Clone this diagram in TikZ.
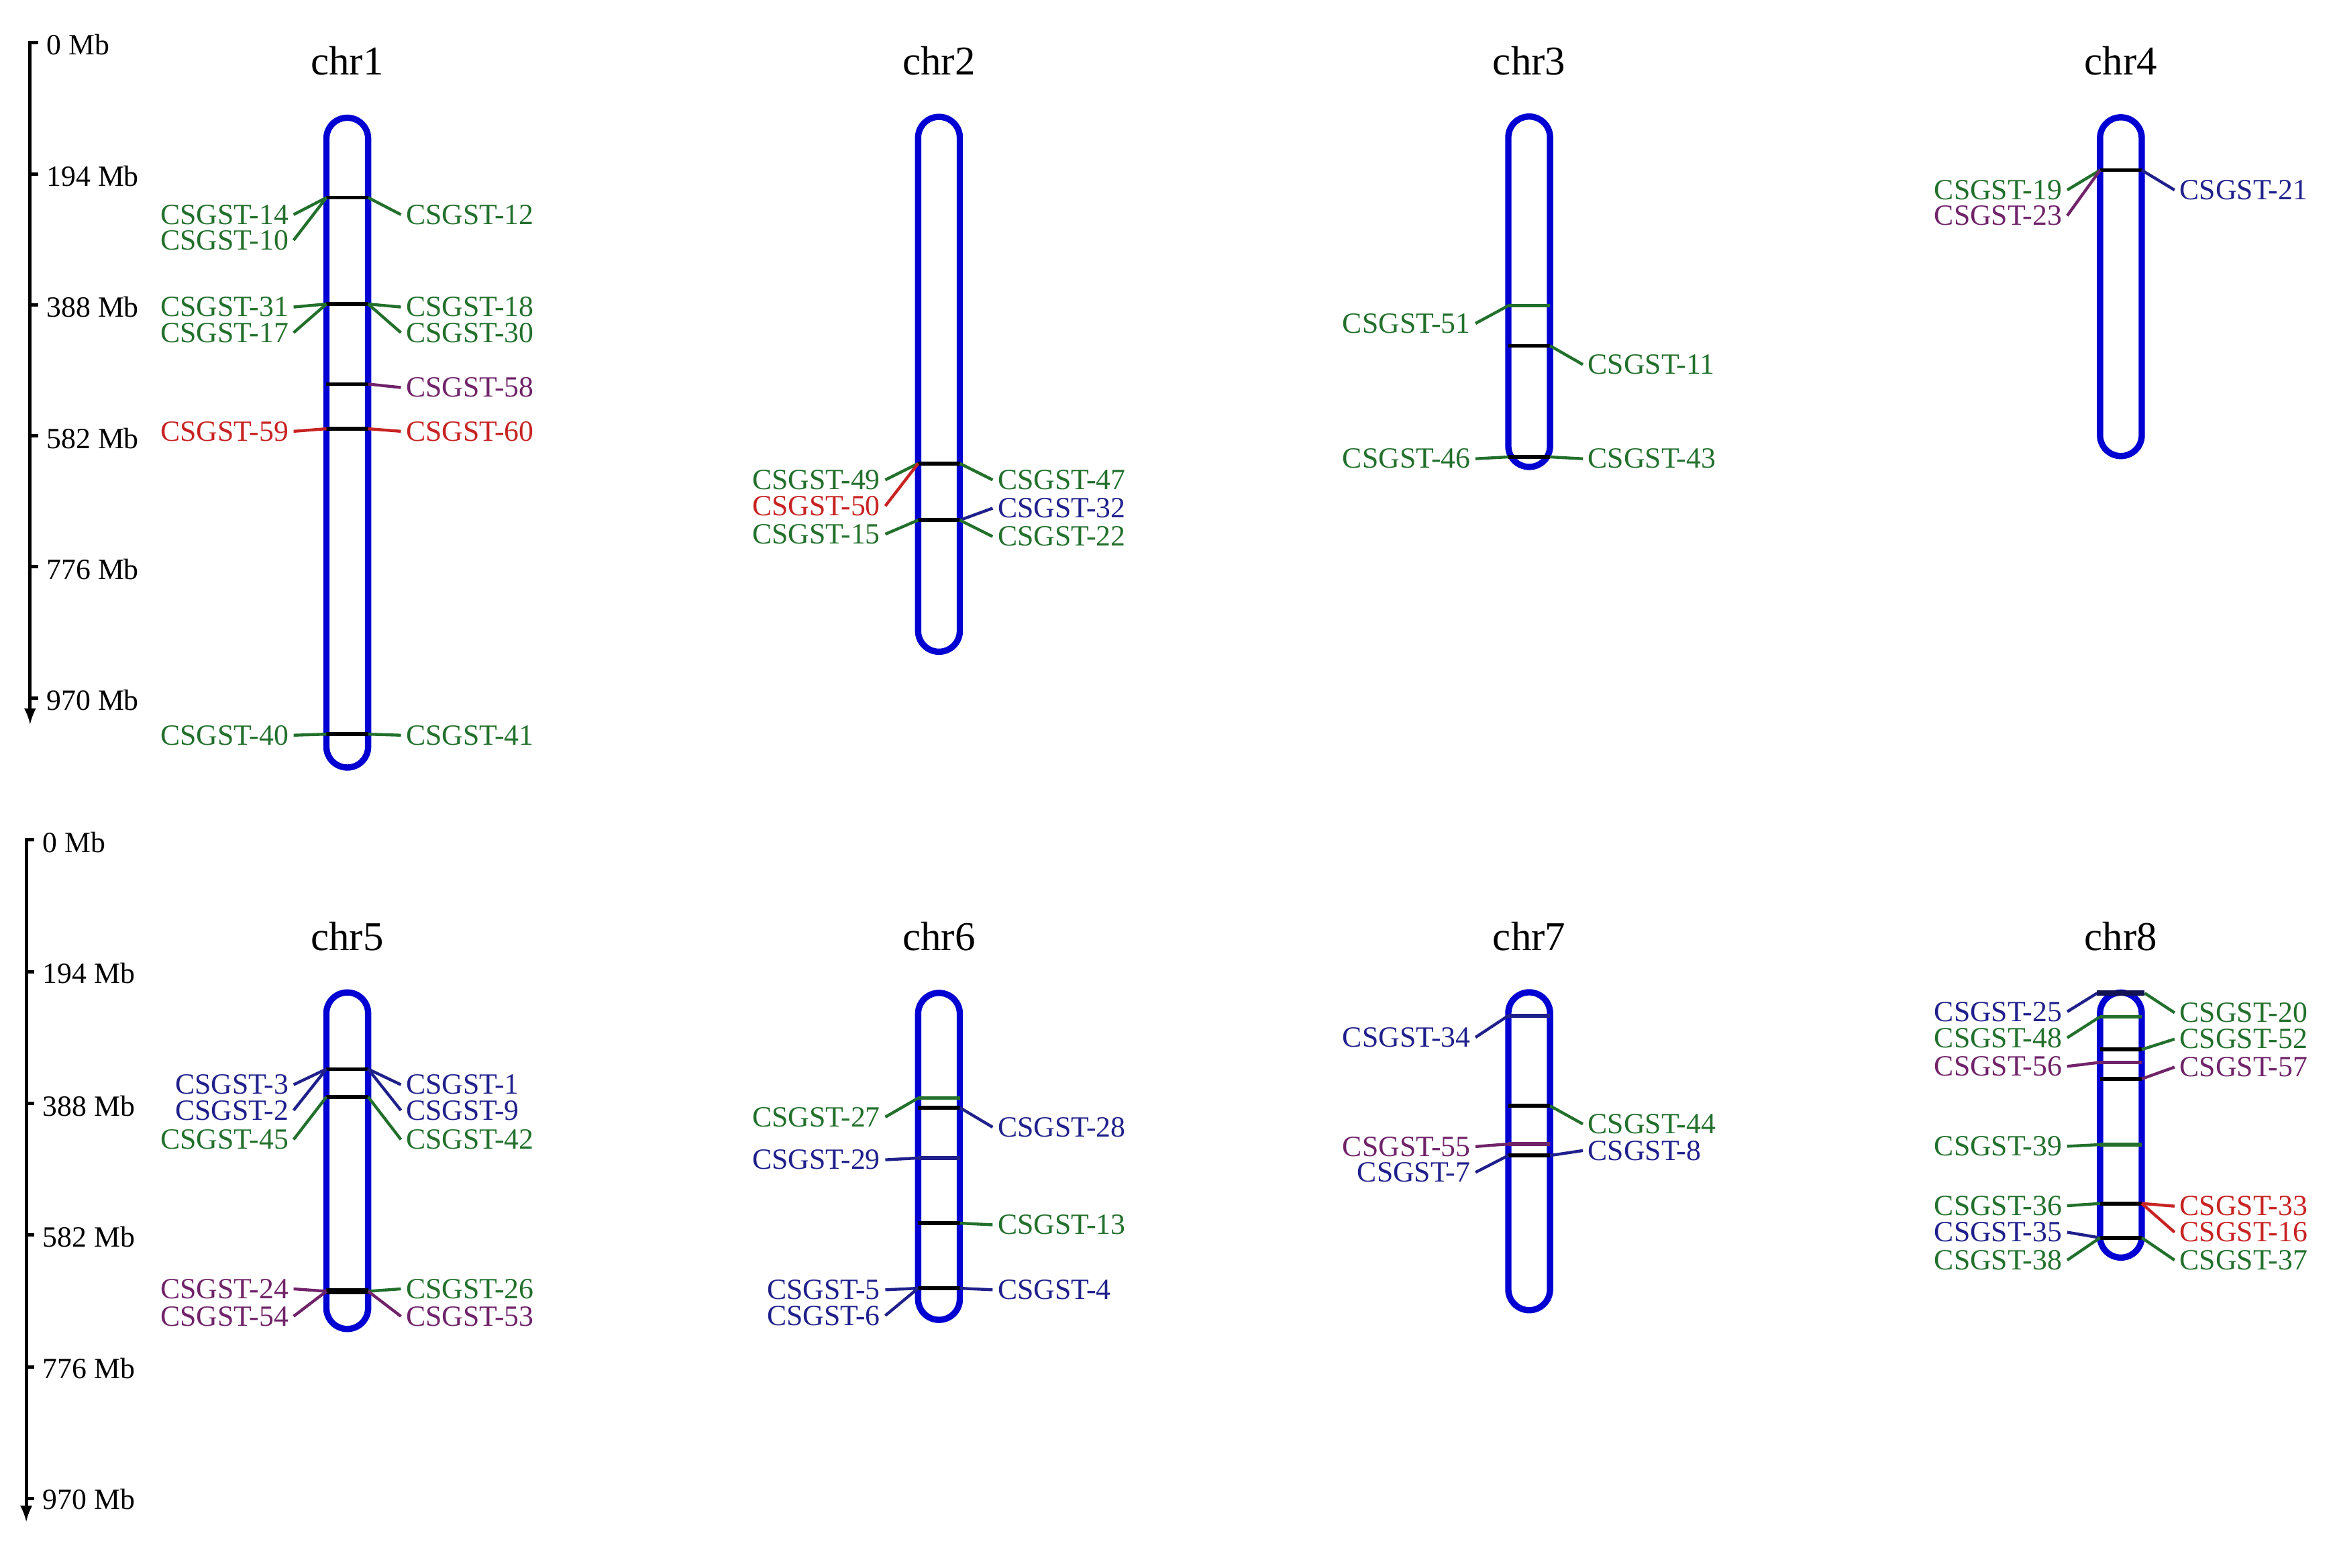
\documentclass[tikz,border=0pt]{standalone}
\usepackage{fontspec}
\setmainfont{Liberation Serif}

\definecolor{chromblue}{RGB}{0,0,210}
\definecolor{gsgreen}{RGB}{34,112,44}
\definecolor{gsblue}{RGB}{32,32,140}
\definecolor{gspurple}{RGB}{112,35,105}
\definecolor{gsred}{RGB}{200,35,35}

\tikzset{
  chrom/.style={draw=chromblue,line width=3pt,rounded corners=0.35cm},
  band/.style={line width=1.8pt},
  lnk/.style={line width=1.4pt},
  axis/.style={line width=1.6pt},
  gl/.style={anchor=east,inner xsep=0.08cm,inner ysep=0pt,font=\fontsize{14}{16}\selectfont},
  gr/.style={anchor=west,inner xsep=0.08cm,inner ysep=0pt,font=\fontsize{14}{16}\selectfont},
  axl/.style={anchor=west,inner sep=0pt,font=\fontsize{14}{16}\selectfont},
  ttl/.style={inner sep=0pt,font=\fontsize{19.5}{22}\selectfont}
}

\begin{document}
\begin{tikzpicture}[x=0.025cm,y=-0.025cm,>=latex]
\useasboundingbox (0,0) rectangle (1568,1052);

% scale bars
\draw[axis,->] (25.5,28.8) -- (20.2,28.8) -- (20.2,486);
\draw[axis] (20.2,116.7) -- (25.5,116.7);
\draw[axis] (20.2,204.6) -- (25.5,204.6);
\draw[axis] (20.2,292.5) -- (25.5,292.5);
\draw[axis] (20.2,380.4) -- (25.5,380.4);
\draw[axis] (20.2,468.3) -- (25.5,468.3);
\node[axl] (ua0) at (31,30) {0 Mb};
\node[axl] (ua1) at (31,118) {194 Mb};
\node[axl] (ua2) at (31,206) {388 Mb};
\node[axl] (ua3) at (31,294) {582 Mb};
\node[axl] (ua4) at (31,382) {776 Mb};
\node[axl] (ua5) at (31,470) {970 Mb};

\draw[axis,->] (23,563.5) -- (17.6,563.5) -- (17.6,1021);
\draw[axis] (17.6,651.9) -- (23,651.9);
\draw[axis] (17.6,740.3) -- (23,740.3);
\draw[axis] (17.6,828.7) -- (23,828.7);
\draw[axis] (17.6,917.1) -- (23,917.1);
\draw[axis] (17.6,1005.5) -- (23,1005.5);
\node[axl] (la0) at (28.4,565) {0 Mb};
\node[axl] (la1) at (28.4,653) {194 Mb};
\node[axl] (la2) at (28.4,742) {388 Mb};
\node[axl] (la3) at (28.4,830) {582 Mb};
\node[axl] (la4) at (28.4,918) {776 Mb};
\node[axl] (la5) at (28.4,1006) {970 Mb};

% chromosomes
\node[ttl] (chr1) at (233,41) {chr1};
\node[ttl] (chr2) at (630,41) {chr2};
\node[ttl] (chr3) at (1026,41) {chr3};
\node[ttl] (chr4) at (1423,41) {chr4};
\node[ttl] (chr5) at (233,628.5) {chr5};
\node[ttl] (chr6) at (630,628.5) {chr6};
\node[ttl] (chr7) at (1026,628.5) {chr7};
\node[ttl] (chr8) at (1423,628.5) {chr8};

\draw[chrom] (219,79) rectangle (247,515);
\draw[chrom] (616,78.4) rectangle (644,437.3);
\draw[chrom] (1012,78.2) rectangle (1040,313.3);
\draw[chrom] (1409,78.7) rectangle (1437,306);
\draw[chrom] (219,665.9) rectangle (247,891.7);
\draw[chrom] (616,666.2) rectangle (644,885.6);
\draw[chrom] (1012,665.8) rectangle (1040,879.1);
\draw[chrom] (1409,666) rectangle (1437,843.8);

% chr1
\draw[band] (219,132.6) coordinate (c1aL) -- (247,132.6) coordinate (c1aR);
\draw[band] (219,204) coordinate (c1bL) -- (247,204) coordinate (c1bR);
\draw[band] (219,257.7) coordinate (c1cL) -- (247,257.7) coordinate (c1cR);
\draw[band] (219,287.7) coordinate (c1dL) -- (247,287.7) coordinate (c1dR);
\draw[band] (219,492.6) coordinate (c1eL) -- (247,492.6) coordinate (c1eR);
\node[gl,text=gsgreen] (g14) at (197,144) {CSGST-14};
\node[gl,text=gsgreen] (g10) at (197,161.2) {CSGST-10};
\node[gr,text=gsgreen] (g12) at (269,144) {CSGST-12};
\node[gl,text=gsgreen] (g31) at (197,206) {CSGST-31};
\node[gl,text=gsgreen] (g17) at (197,223.2) {CSGST-17};
\node[gr,text=gsgreen] (g18) at (269,206) {CSGST-18};
\node[gr,text=gsgreen] (g30) at (269,223.2) {CSGST-30};
\node[gr,text=gspurple] (g58) at (269,260) {CSGST-58};
\node[gl,text=gsred] (g59) at (197,289.4) {CSGST-59};
\node[gr,text=gsred] (g60) at (269,289.4) {CSGST-60};
\node[gl,text=gsgreen] (g40) at (197,493.3) {CSGST-40};
\node[gr,text=gsgreen] (g41) at (269,493.3) {CSGST-41};
\draw[lnk,gsgreen] (c1aL) -- (g14.east);
\draw[lnk,gsgreen] (c1aL) -- (g10.east);
\draw[lnk,gsgreen] (c1aR) -- (g12.west);
\draw[lnk,gsgreen] (c1bL) -- (g31.east);
\draw[lnk,gsgreen] (c1bL) -- (g17.east);
\draw[lnk,gsgreen] (c1bR) -- (g18.west);
\draw[lnk,gsgreen] (c1bR) -- (g30.west);
\draw[lnk,gspurple] (c1cR) -- (g58.west);
\draw[lnk,gsred] (c1dL) -- (g59.east);
\draw[lnk,gsred] (c1dR) -- (g60.west);
\draw[lnk,gsgreen] (c1eL) -- (g40.east);
\draw[lnk,gsgreen] (c1eR) -- (g41.west);

% chr2
\draw[band] (616,311) coordinate (c2aL) -- (644,311) coordinate (c2aR);
\draw[band] (616,349) coordinate (c2bL) -- (644,349) coordinate (c2bR);
\node[gl,text=gsgreen] (g49) at (594,322) {CSGST-49};
\node[gl,text=gsred] (g50) at (594,339.5) {CSGST-50};
\node[gl,text=gsgreen] (g15) at (594,358.4) {CSGST-15};
\node[gr,text=gsgreen] (g47) at (666,322) {CSGST-47};
\node[gr,text=gsblue] (g32) at (666,341) {CSGST-32};
\node[gr,text=gsgreen] (g22) at (666,360) {CSGST-22};
\draw[lnk,gsgreen] (c2aL) -- (g49.east);
\draw[lnk,gsred] (c2aL) -- (g50.east);
\draw[lnk,gsgreen] (c2bL) -- (g15.east);
\draw[lnk,gsgreen] (c2aR) -- (g47.west);
\draw[lnk,gsblue] (c2bR) -- (g32.west);
\draw[lnk,gsgreen] (c2bR) -- (g22.west);

% chr3
\draw[band,gsgreen] (1012,205.1) coordinate (c3aL) -- (1040,205.1) coordinate (c3aR);
\draw[band] (1012,232) coordinate (c3bL) -- (1040,232) coordinate (c3bR);
\draw[band] (1012,306.6) coordinate (c3cL) -- (1040,306.6) coordinate (c3cR);
\node[gl,text=gsgreen] (g51) at (990,217) {CSGST-51};
\node[gr,text=gsgreen] (g11) at (1062,244.6) {CSGST-11};
\node[gl,text=gsgreen] (g46) at (990,307.8) {CSGST-46};
\node[gr,text=gsgreen] (g43) at (1062,307.8) {CSGST-43};
\draw[lnk,gsgreen] (c3aL) -- (g51.east);
\draw[lnk,gsgreen] (c3bR) -- (g11.west);
\draw[lnk,gsgreen] (c3cL) -- (g46.east);
\draw[lnk,gsgreen] (c3cR) -- (g43.west);

% chr4
\draw[band] (1409,114.2) coordinate (c4aL) -- (1437,114.2) coordinate (c4aR);
\node[gl,text=gsgreen] (g19) at (1387,127.5) {CSGST-19};
\node[gl,text=gspurple] (g23) at (1387,144.7) {CSGST-23};
\node[gr,text=gsblue] (g21) at (1459,127.5) {CSGST-21};
\draw[lnk,gsgreen] (c4aL) -- (g19.east);
\draw[lnk,gspurple] (c4aL) -- (g23.east);
\draw[lnk,gsblue] (c4aR) -- (g21.west);

% chr5
\draw[band] (219,717.3) coordinate (c5aL) -- (247,717.3) coordinate (c5aR);
\draw[band] (219,736) coordinate (c5bL) -- (247,736) coordinate (c5bR);
\draw[band,line width=3pt] (219,866.4) coordinate (c5cL) -- (247,866.4) coordinate (c5cR);
\node[gl,text=gsblue] (g3) at (197,727.8) {CSGST-3};
\node[gl,text=gsblue] (g2) at (197,745) {CSGST-2};
\node[gl,text=gsgreen] (g45) at (197,764.6) {CSGST-45};
\node[gr,text=gsblue] (g1) at (269,727.8) {CSGST-1};
\node[gr,text=gsblue] (g9) at (269,745) {CSGST-9};
\node[gr,text=gsgreen] (g42) at (269,764.6) {CSGST-42};
\node[gl,text=gspurple] (g24) at (197,864.8) {CSGST-24};
\node[gl,text=gspurple] (g54) at (197,883.2) {CSGST-54};
\node[gr,text=gsgreen] (g26) at (269,864.8) {CSGST-26};
\node[gr,text=gspurple] (g53) at (269,883.2) {CSGST-53};
\draw[lnk,gsblue] (c5aL) -- (g3.east);
\draw[lnk,gsblue] (c5aL) -- (g2.east);
\draw[lnk,gsgreen] (c5bL) -- (g45.east);
\draw[lnk,gsblue] (c5aR) -- (g1.west);
\draw[lnk,gsblue] (c5aR) -- (g9.west);
\draw[lnk,gsgreen] (c5bR) -- (g42.west);
\draw[lnk,gspurple] (c5cL) -- (g24.east);
\draw[lnk,gspurple] (c5cL) -- (g54.east);
\draw[lnk,gsgreen] (c5cR) -- (g26.west);
\draw[lnk,gspurple] (c5cR) -- (g53.west);

% chr6
\draw[band,gsgreen] (616,736.8) coordinate (c6aL) -- (644,736.8) coordinate (c6aR);
\draw[band] (616,743.2) coordinate (c6bL) -- (644,743.2) coordinate (c6bR);
\draw[band,gsblue] (616,777) coordinate (c6cL) -- (644,777) coordinate (c6cR);
\draw[band] (616,820.7) coordinate (c6dL) -- (644,820.7) coordinate (c6dR);
\draw[band] (616,864.4) coordinate (c6eL) -- (644,864.4) coordinate (c6eR);
\node[gl,text=gsgreen] (g27) at (594,749.5) {CSGST-27};
\node[gr,text=gsblue] (g28) at (666,756.3) {CSGST-28};
\node[gl,text=gsblue] (g29) at (594,778.2) {CSGST-29};
\node[gr,text=gsgreen] (g13) at (666,821.8) {CSGST-13};
\node[gl,text=gsblue] (g5) at (594,865.4) {CSGST-5};
\node[gl,text=gsblue] (g6) at (594,882.7) {CSGST-6};
\node[gr,text=gsblue] (g4) at (666,865.4) {CSGST-4};
\draw[lnk,gsgreen] (c6aL) -- (g27.east);
\draw[lnk,gsblue] (c6bR) -- (g28.west);
\draw[lnk,gsblue] (c6cL) -- (g29.east);
\draw[lnk,gsgreen] (c6dR) -- (g13.west);
\draw[lnk,gsblue] (c6eL) -- (g5.east);
\draw[lnk,gsblue] (c6eL) -- (g6.east);
\draw[lnk,gsblue] (c6eR) -- (g4.west);

% chr7
\draw[band,gsblue] (1012,681.5) coordinate (c7aL) -- (1040,681.5) coordinate (c7aR);
\draw[band] (1012,742) coordinate (c7bL) -- (1040,742) coordinate (c7bR);
\draw[band,gspurple] (1012,767.6) coordinate (c7cL) -- (1040,767.6) coordinate (c7cR);
\draw[band] (1012,775.3) coordinate (c7dL) -- (1040,775.3) coordinate (c7dR);
\node[gl,text=gsblue] (g34) at (990,696) {CSGST-34};
\node[gr,text=gsgreen] (g44) at (1062,754.2) {CSGST-44};
\node[gl,text=gspurple] (g55) at (990,769.3) {CSGST-55};
\node[gr,text=gsblue] (g8) at (1062,772) {CSGST-8};
\node[gl,text=gsblue] (g7) at (990,786.6) {CSGST-7};
\draw[lnk,gsblue] (c7aL) -- (g34.east);
\draw[lnk,gsgreen] (c7bR) -- (g44.west);
\draw[lnk,gspurple] (c7cL) -- (g55.east);
\draw[lnk,gsblue] (c7dR) -- (g8.west);
\draw[lnk,gsblue] (c7dL) -- (g7.east);

% chr8
\draw[band,gsblue!60!black,line width=2.6pt] (1407,666.4) coordinate (c8aL) -- (1439,666.4) coordinate (c8aR);
\draw[band,gsgreen] (1409,682.2) coordinate (c8bL) -- (1437,682.2) coordinate (c8bR);
\draw[band] (1409,704.2) coordinate (c8cL) -- (1437,704.2) coordinate (c8cR);
\draw[band,gspurple] (1409,712.8) coordinate (c8dL) -- (1437,712.8) coordinate (c8dR);
\draw[band] (1409,723.9) coordinate (c8eL) -- (1437,723.9) coordinate (c8eR);
\draw[band,gsgreen] (1409,768) coordinate (c8fL) -- (1437,768) coordinate (c8fR);
\draw[band] (1409,807.5) coordinate (c8gL) -- (1437,807.5) coordinate (c8gR);
\draw[band] (1409,830.5) coordinate (c8hL) -- (1437,830.5) coordinate (c8hR);
\node[gl,text=gsblue] (g25) at (1387,678.8) {CSGST-25};
\node[gl,text=gsgreen] (g48) at (1387,696.3) {CSGST-48};
\node[gl,text=gspurple] (g56) at (1387,715.5) {CSGST-56};
\node[gl,text=gsgreen] (g39) at (1387,769.1) {CSGST-39};
\node[gl,text=gsgreen] (g36) at (1387,809) {CSGST-36};
\node[gl,text=gsblue] (g35) at (1387,826.8) {CSGST-35};
\node[gl,text=gsgreen] (g38) at (1387,845.5) {CSGST-38};
\node[gr,text=gsgreen] (g20) at (1459,679.5) {CSGST-20};
\node[gr,text=gsgreen] (g52) at (1459,697.2) {CSGST-52};
\node[gr,text=gspurple] (g57) at (1459,716) {CSGST-57};
\node[gr,text=gsred] (g33) at (1459,809.3) {CSGST-33};
\node[gr,text=gsred] (g16) at (1459,826.8) {CSGST-16};
\node[gr,text=gsgreen] (g37) at (1459,845.5) {CSGST-37};
\draw[lnk,gsblue] (c8aL) -- (g25.east);
\draw[lnk,gsgreen] (c8bL) -- (g48.east);
\draw[lnk,gspurple] (c8dL) -- (g56.east);
\draw[lnk,gsgreen] (c8fL) -- (g39.east);
\draw[lnk,gsgreen] (c8gL) -- (g36.east);
\draw[lnk,gsblue] (c8hL) -- (g35.east);
\draw[lnk,gsgreen] (c8hL) -- (g38.east);
\draw[lnk,gsgreen] (c8aR) -- (g20.west);
\draw[lnk,gsgreen] (c8cR) -- (g52.west);
\draw[lnk,gspurple] (c8eR) -- (g57.west);
\draw[lnk,gsred] (c8gR) -- (g33.west);
\draw[lnk,gsred] (c8gR) -- (g16.west);
\draw[lnk,gsgreen] (c8hR) -- (g37.west);
\end{tikzpicture}
\end{document}
